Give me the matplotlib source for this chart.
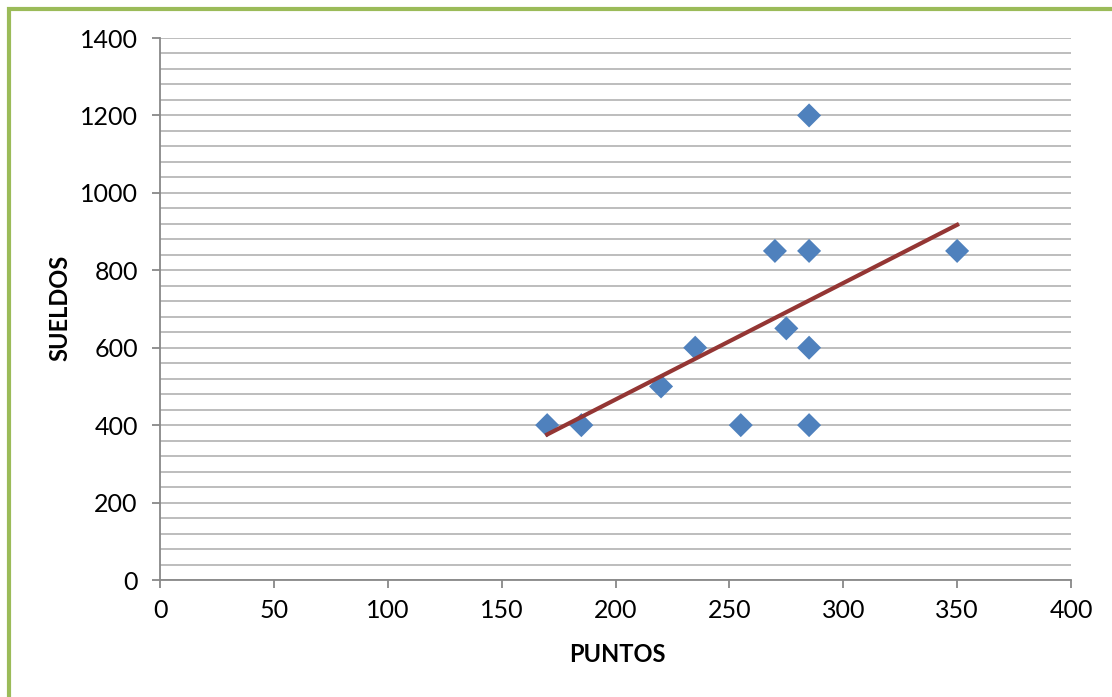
import matplotlib.pyplot as plt
import numpy as np
from matplotlib.patches import Rectangle
from matplotlib.ticker import MultipleLocator

puntos = [170, 185, 220, 235, 255, 270, 275, 285, 285, 285, 285, 350]
sueldos = [400, 400, 500, 600, 400, 850, 650, 1200, 850, 600, 400, 850]

plt.rcParams["font.family"] = ["Lato", "DejaVu Sans"]

fig = plt.figure(figsize=(11.12, 6.97), dpi=100)
ax = fig.add_axes([160 / 1112, 1 - 580 / 697, (1071 - 160) / 1112, (580 - 38) / 697])

# green frame (only top and left edges are visible in the crop)
fig.patches.append(Rectangle((9 / 1112, -0.1), 1.2, 1 - 9 / 697 + 0.1,
                             transform=fig.transFigure, fill=False,
                             edgecolor="#9bbb59", linewidth=3, zorder=0))

ax.set_xlim(0, 400)
ax.set_ylim(0, 1400)
ax.xaxis.set_major_locator(MultipleLocator(50))
ax.yaxis.set_major_locator(MultipleLocator(200))
ax.yaxis.set_minor_locator(MultipleLocator(40))
ax.grid(axis="y", which="both", color="#b8b8b8", linewidth=1.3)
ax.set_axisbelow(True)

for side in ("top", "right"):
    ax.spines[side].set_visible(False)
for side in ("left", "bottom"):
    ax.spines[side].set_color("#888888")
    ax.spines[side].set_linewidth(1.3)
ax.tick_params(which="major", length=6, width=1.3, color="#888888",
               labelsize=18)
ax.tick_params(axis="y", pad=10)
ax.tick_params(axis="x", pad=8)
ax.tick_params(which="minor", length=0)

ax.scatter(puntos, sueldos, marker="D", s=150, color="#4f81bd",
           edgecolors="none", zorder=3)

# linear trend line over the data range
m, b = np.polyfit(puntos, sueldos, 1)
xs = np.array([min(puntos), max(puntos)])
ax.plot(xs, m * xs + b, color="#943634", linewidth=3, zorder=4)

ax.set_xlabel("PUNTOS", fontsize=17, fontweight="bold", va="center")
ax.set_ylabel("SUELDOS", fontsize=17, fontweight="bold", va="center")
ax.xaxis.set_label_coords(0.5 + (617 - 615.5) / 911, -(655 - 580) / 542)
ax.yaxis.set_label_coords(-(160 - 60) / 911, 0.5 + (310 - 309) / 542)

fig.savefig("out.png", dpi=100)
